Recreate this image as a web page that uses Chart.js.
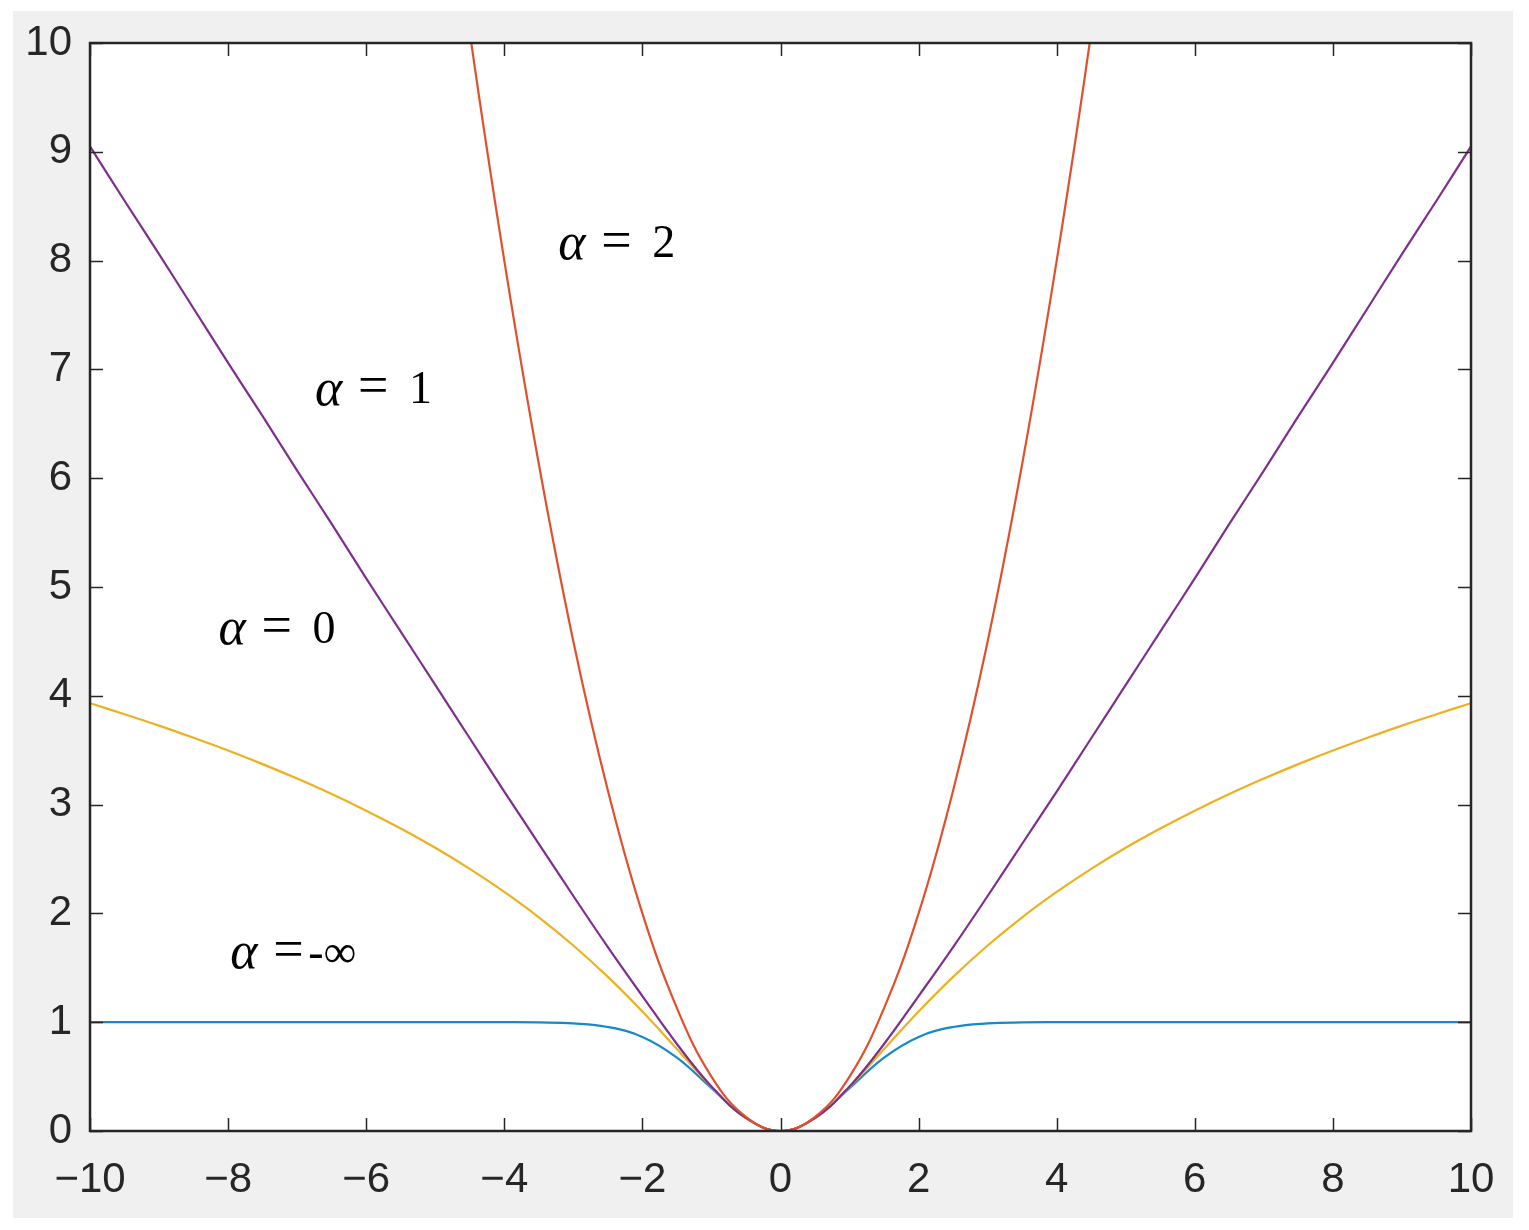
<!DOCTYPE html>
<html>
<head>
<meta charset="utf-8">
<script src="https://cdn.jsdelivr.net/npm/chart.js@4/dist/chart.umd.min.js"></script>
<style>
  html, body { margin: 0; padding: 0; background: #fff; }
  #wrap { position: relative; width: 1529px; height: 1230px; }
</style>
</head>
<body>
<div id="wrap"><canvas id="lossChart" width="1529" height="1230"></canvas></div>
<script>
// x positions
const xValues = [-10, -9.5, -9, -8.5, -8, -7.5, -7, -6.5, -6, -5.5, -5, -4.5, -4, -3.5, -3, -2.5, -2, -1.5, -1, -0.5,
  0, 0.5, 1, 1.5, 2, 2.5, 3, 3.5, 4, 4.5, 5, 5.5, 6, 6.5, 7, 7.5, 8, 8.5, 9, 9.5, 10];

// alpha = -inf (blue)
const lossNegInf = [1, 1, 1, 1, 1, 1, 1, 1, 1, 1, 1, 1, 1, 0.998, 0.989, 0.956, 0.865, 0.675, 0.394, 0.118,
  0, 0.118, 0.394, 0.675, 0.865, 0.956, 0.989, 0.998, 1, 1, 1, 1, 1, 1, 1, 1, 1, 1, 1, 1, 1];

// alpha = 0 (yellow)
const lossZero = [3.932, 3.831, 3.726, 3.614, 3.497, 3.372, 3.239, 3.097, 2.944, 2.780, 2.603, 2.409, 2.197, 1.964, 1.705, 1.417, 1.099, 0.754, 0.405, 0.118,
  0, 0.118, 0.405, 0.754, 1.099, 1.417, 1.705, 1.964, 2.197, 2.409, 2.603, 2.780, 2.944, 3.097, 3.239, 3.372, 3.497, 3.614, 3.726, 3.831, 3.932];

// alpha = 1 (purple)
const lossOne = [9.05, 8.55, 8.06, 7.56, 7.06, 6.57, 6.07, 5.58, 5.08, 4.59, 4.10, 3.61, 3.12, 2.64, 2.16, 1.69, 1.24, 0.80, 0.41, 0.12,
  0, 0.12, 0.41, 0.80, 1.24, 1.69, 2.16, 2.64, 3.12, 3.61, 4.10, 4.59, 5.08, 5.58, 6.07, 6.57, 7.06, 7.56, 8.06, 8.55, 9.05];

// alpha = 2 (red), leaves the top of the box near |x| = 4.5
const lossTwo = [null, null, null, null, null, null, null, null, null, 15.1, 12.5, 10.1, 8.0, 6.13, 4.5, 3.13, 2.0, 1.13, 0.5, 0.13,
  0, 0.13, 0.5, 1.13, 2.0, 3.13, 4.5, 6.13, 8.0, 10.1, 12.5, 15.1, null, null, null, null, null, null, null, null, null];

const xTicks = [-10, -8, -6, -4, -2, 0, 2, 4, 6, 8, 10];
const yTicks = [0, 1, 2, 3, 4, 5, 6, 7, 8, 9, 10];

// curve labels: [alpha text, value text, x, y, value offset]
const curveLabels = [
  ['α', '2', -3.22, 8.14, 94],
  ['α', '1', -6.74, 6.80, 94],
  ['α', '0', -8.14, 4.60, 94],
  ['α', '-∞', -7.97, 1.62, 78]
];

const inkColor = '#262626';

function toPoints(ys) {
  return xValues.map((x, i) => ({ x: x, y: ys[i] }));
}

// grey figure background + white axes box
const backgroundPlugin = {
  id: 'figureBackground',
  beforeDraw(chart) {
    const ctx = chart.ctx;
    const a = chart.chartArea;
    ctx.save();
    ctx.fillStyle = '#f0f0f0';
    ctx.fillRect(13, 11, 1500, 1207);
    ctx.fillStyle = '#ffffff';
    ctx.fillRect(a.left, a.top, a.right - a.left, a.bottom - a.top);
    ctx.restore();
  }
};

// MATLAB style box with inward ticks on all four sides
const boxPlugin = {
  id: 'boxTicks',
  afterDatasetsDraw(chart) {
    const ctx = chart.ctx;
    const a = chart.chartArea;
    const xs = chart.scales.x, ys = chart.scales.y;
    const len = 13;
    ctx.save();
    ctx.strokeStyle = inkColor;
    ctx.lineWidth = 1.5;
    ctx.beginPath();
    xTicks.forEach(v => {
      const px = Math.round(xs.getPixelForValue(v)) + 0.5;
      ctx.moveTo(px, a.bottom); ctx.lineTo(px, a.bottom - len);
      ctx.moveTo(px, a.top); ctx.lineTo(px, a.top + len);
    });
    yTicks.forEach(v => {
      const py = Math.round(ys.getPixelForValue(v)) + 0.5;
      ctx.moveTo(a.left, py); ctx.lineTo(a.left + len, py);
      ctx.moveTo(a.right, py); ctx.lineTo(a.right - len, py);
    });
    ctx.stroke();
    ctx.lineWidth = 2.5;
    ctx.strokeRect(a.left, a.top, a.right - a.left, a.bottom - a.top);
    ctx.restore();
  }
};

// alpha labels placed in data coordinates
const labelPlugin = {
  id: 'curveLabels',
  afterDatasetsDraw(chart) {
    const ctx = chart.ctx;
    const xs = chart.scales.x, ys = chart.scales.y;
    ctx.save();
    ctx.fillStyle = '#000';
    ctx.textBaseline = 'middle';
    ctx.textAlign = 'left';
    curveLabels.forEach(l => {
      const px = xs.getPixelForValue(l[2]);
      const py = ys.getPixelForValue(l[3]);
      ctx.font = 'italic 52px "Liberation Serif", "DejaVu Serif", serif';
      ctx.fillText(l[0], px, py);
      ctx.font = '54px "Liberation Serif", "DejaVu Serif", serif';
      ctx.fillText('=', px + 43, py - 2);
      ctx.font = '46px "Liberation Serif", "DejaVu Serif", serif';
      ctx.fillText(l[1], px + l[4], py);
    });
    ctx.restore();
  }
};

const ctx = document.getElementById('lossChart').getContext('2d');

new Chart(ctx, {
  type: 'line',
  data: {
    datasets: [
      { label: 'α = 2', data: toPoints(lossTwo), borderColor: '#E0502D', order: 0 },
      { label: 'α = 1', data: toPoints(lossOne), borderColor: '#7E2F8E', order: 1 },
      { label: 'α = 0', data: toPoints(lossZero), borderColor: '#EDB120', order: 2 },
      { label: 'α = -∞', data: toPoints(lossNegInf), borderColor: '#1689C8', order: 3 }
    ]
  },
  options: {
    responsive: false,
    animation: false,
    layout: { padding: { top: 43, right: 58, left: 0, bottom: 0 } },
    elements: {
      point: { radius: 0 },
      line: { borderWidth: 2.2, tension: 0.4, fill: false }
    },
    plugins: {
      legend: { display: false },
      tooltip: { enabled: false }
    },
    scales: {
      x: {
        type: 'linear',
        min: -10,
        max: 10,
        afterBuildTicks(scale) { scale.ticks = xTicks.map(v => ({ value: v })); },
        afterFit(scale) { scale.height = 99; },
        grid: { display: false },
        border: { display: false },
        ticks: {
          color: inkColor,
          padding: 16,
          maxRotation: 0,
          font: { family: '"Liberation Sans", Arial, sans-serif', size: 42 },
          callback: v => (v < 0 ? '\u2212' + Math.abs(v) : String(v))
        }
      },
      y: {
        type: 'linear',
        min: 0,
        max: 10,
        afterBuildTicks(scale) { scale.ticks = yTicks.map(v => ({ value: v })); },
        afterFit(scale) { scale.width = 90; },
        grid: { display: false },
        border: { display: false },
        ticks: {
          color: inkColor,
          padding: 10,
          font: { family: '"Liberation Sans", Arial, sans-serif', size: 42 }
        }
      }
    }
  },
  plugins: [backgroundPlugin, boxPlugin, labelPlugin]
});
</script>
</body>
</html>
